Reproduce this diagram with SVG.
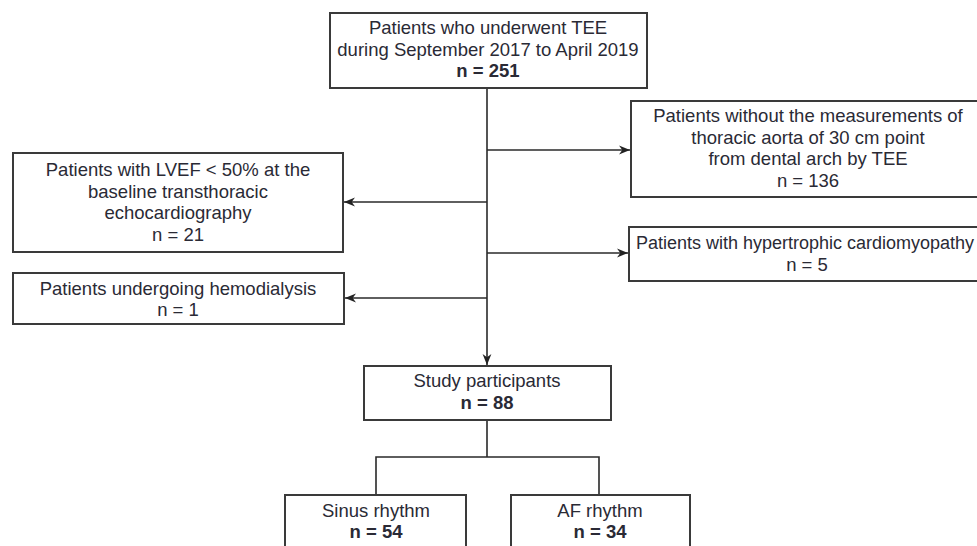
<svg xmlns="http://www.w3.org/2000/svg" width="977" height="546" viewBox="0 0 977 546">
<defs>
<marker id="ah" viewBox="0 0 10 10" refX="10" refY="5" markerWidth="11" markerHeight="11" markerUnits="userSpaceOnUse" orient="auto">
<path d="M0,1 L10,5 L0,9 L3,5 Z" fill="#222"/>
</marker>
</defs>
<style>
.box{fill:#fff;stroke:#3a3a3a;stroke-width:2}
.t{font-family:"Liberation Sans",Arial,sans-serif;font-size:18.5px;fill:#2a2a35;text-anchor:middle}
.b{font-weight:bold}
.c{fill:none;stroke:#2a2a2a;stroke-width:1.6}
</style>
<rect width="977" height="546" fill="#fff"/>
<g id="connectors">
<path class="c" d="M487,88 V365" marker-end="url(#ah)"/>
<path class="c" d="M487,150 H630" marker-end="url(#ah)"/>
<path class="c" d="M487,202 H344" marker-end="url(#ah)"/>
<path class="c" d="M487,253 H628" marker-end="url(#ah)"/>
<path class="c" d="M487,298 H345" marker-end="url(#ah)"/>
<path class="c" d="M487,420 V457 M376,495 V457 H599 V495"/>
</g>
<g id="n_total">
<rect class="box" x="330" y="13" width="317" height="75"/>
<text class="t" x="488" y="34">Patients who underwent TEE</text>
<text class="t" x="488" y="56">during September 2017 to April 2019</text>
<text class="t b" x="488" y="77">n = 251</text>
</g>
<g id="n_nomeas">
<rect class="box" x="631" y="101" width="356" height="96"/>
<text class="t" x="808" y="122">Patients without the measurements of</text>
<text class="t" x="808" y="144">thoracic aorta of 30 cm point</text>
<text class="t" x="808" y="165">from dental arch by TEE</text>
<text class="t" x="808" y="187">n = 136</text>
</g>
<g id="n_lvef">
<rect class="box" x="13" y="153" width="330" height="99"/>
<text class="t" x="178" y="176">Patients with LVEF &lt; 50% at the</text>
<text class="t" x="178" y="198">baseline transthoracic</text>
<text class="t" x="178" y="219">echocardiography</text>
<text class="t" x="178" y="241">n = 21</text>
</g>
<g id="n_hcm">
<rect class="box" x="629" y="227" width="358" height="54"/>
<text class="t" x="805" y="249" style="font-size:18px">Patients with hypertrophic cardiomyopathy</text>
<text class="t" x="807" y="271">n = 5</text>
</g>
<g id="n_hd">
<rect class="box" x="13" y="273" width="331" height="51"/>
<text class="t" x="178" y="295">Patients undergoing hemodialysis</text>
<text class="t" x="178" y="316">n = 1</text>
</g>
<g id="n_study">
<rect class="box" x="364" y="366" width="247" height="54"/>
<text class="t" x="487" y="387">Study participants</text>
<text class="t b" x="487" y="409">n = 88</text>
</g>
<g id="n_sinus">
<rect class="box" x="285" y="495" width="181" height="60"/>
<text class="t" x="376" y="517">Sinus rhythm</text>
<text class="t b" x="376" y="538">n = 54</text>
</g>
<g id="n_af">
<rect class="box" x="511" y="495" width="179" height="60"/>
<text class="t" x="600" y="517">AF rhythm</text>
<text class="t b" x="600" y="538">n = 34</text>
</g>
</svg>
